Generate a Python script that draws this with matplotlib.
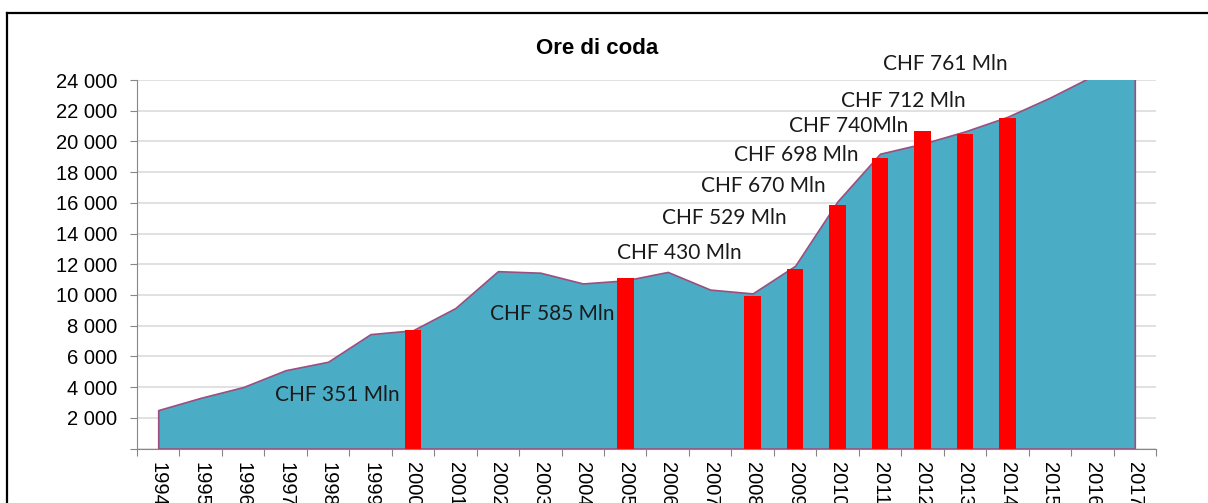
import numpy as np
import matplotlib
matplotlib.use("Agg")
import matplotlib.pyplot as plt
from matplotlib.lines import Line2D

# data
years = [str(y) for y in range(1994, 2018)]
ore_coda = [2500, 3300, 4000, 5100, 5650, 7450, 7700, 9150, 11550, 11450,
            10750, 10950, 11500, 10350, 10100, 11900, 16100, 19200, 19850,
            20650, 21600, 22850, 24250, 25500]
bar_years = ['2000', '2005', '2008', '2009', '2010', '2011', '2012', '2013', '2014']
bar_values = [7700, 11100, 9900, 11700, 15850, 18900, 20700, 20500, 21500]
chf_labels = ['CHF 351 Mln', 'CHF 585 Mln', 'CHF 430 Mln', 'CHF 529 Mln',
              'CHF 670 Mln', 'CHF 698 Mln', 'CHF 740Mln', 'CHF 712 Mln',
              'CHF 761 Mln']
# label anchors (category position, value at text baseline)
chf_x = [4.21, 9.27, 12.28, 13.33, 14.24, 15.02, 16.25, 17.54, 18.53]
chf_y = [3100, 8360, 12330, 14600, 16680, 18740, 20600, 22250, 24650]

W, H = 1208, 503
fig = plt.figure(figsize=(W / 100, H / 100), dpi=100)
ax = fig.add_axes([137 / W, 1 - 448.5 / H, (1156 - 137) / W, (448.5 - 80) / H])

x = np.arange(len(years))
ax.fill_between(x, 0, ore_coda, facecolor='#4bacc6', edgecolor='#9b4f80',
                linewidth=1.2, zorder=2)
bx = [years.index(y) for y in bar_years]
ax.bar(bx, bar_values, width=0.39, color='#ff0000', zorder=3)

for s, px, py in zip(chf_labels, chf_x, chf_y):
    ax.text(px, py, s, ha='center', va='baseline', fontsize=15,
            family='Lato', color='#1a1a1a', zorder=5, clip_on=False)

ax.set_xlim(-0.5, len(years) - 0.5)
ax.set_ylim(0, 24000)

yt = np.arange(0, 24001, 2000)
ax.set_yticks(yt)
ax.set_yticklabels([''] + [f'{v:,}'.replace(',', ' ') for v in yt[1:]],
                   family='Liberation Sans', fontsize=14.5)
ax.yaxis.grid(True, color='#d9d9d9', linewidth=1.1, zorder=0)
ax.set_axisbelow(True)

ax.set_xticks(np.arange(-0.5, len(years)), minor=False)
ax.set_xticklabels([])
ax.set_xticks(x, minor=True)
ax.set_xticklabels(years, minor=True, rotation=270, family='Liberation Sans',
                   fontsize=14.5)
ax.tick_params(axis='x', which='minor', length=0, pad=9.6)
ax.tick_params(axis='x', which='major', length=5, color='#868686')
ax.tick_params(axis='y', length=5, color='#868686', pad=9)

for side in ['top', 'right']:
    ax.spines[side].set_visible(False)
for side in ['left', 'bottom']:
    ax.spines[side].set_color('#868686')
    ax.spines[side].set_zorder(4)

fig.text(597.5 / W, 1 - 49 / H, 'Ore di coda', ha='center', va='center',
         fontsize=16, fontweight='bold', family='Liberation Sans')

# outer frame (only top and left edges fall inside the image)
fig.add_artist(Line2D([7 / W, 1.0], [1 - 12.7 / H] * 2, color='black',
                      linewidth=1.6, transform=fig.transFigure))
fig.add_artist(Line2D([7 / W] * 2, [0, 1 - 12.7 / H], color='black',
                      linewidth=1.6, transform=fig.transFigure))

fig.savefig('out.png', dpi=100)
